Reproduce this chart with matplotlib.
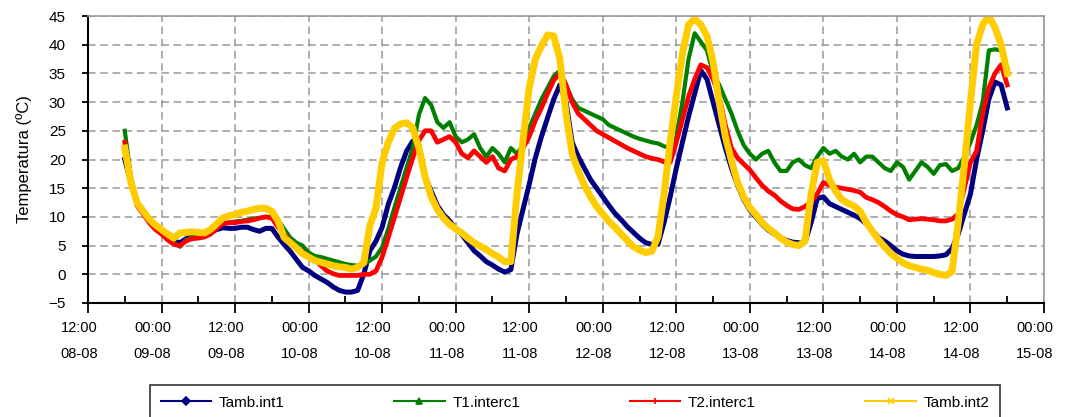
import numpy as np
import pandas as pd
import matplotlib
matplotlib.use("Agg")
from matplotlib import pyplot as plt
from matplotlib import dates as mdates
from matplotlib.lines import Line2D
from matplotlib.transforms import ScaledTranslation

plt.rcParams['font.family'] = ['Liberation Sans', 'DejaVu Sans']

# hourly readings, 08-08 18:00 -> 14-08 18:00
times = pd.date_range('2008-08-08 18:00', '2008-08-14 18:00', freq='h')

tamb_int1 = [
    20, 16, 12.5, 10.8, 9.3, 8.2, 7.4, 6.6, 5.8, 5.5, 6.2, 6.5,
    6.6, 6.8, 7.3, 7.8, 8.1, 8.0, 8.0, 8.2, 8.2, 7.8, 7.5, 8.0,
    8.0, 6.5, 5.2, 4.0, 2.6, 1.2, 0.6, -0.2, -0.8, -1.4, -2.2, -2.8,
    -3.1, -3.1, -2.8, 0.0, 4.1, 5.8, 8.2, 12.2, 15.1, 18.6, 21.5, 23.2,
    22.5, 17, 14.5, 12, 10.4, 9.3, 7.9, 6.9, 5.5, 4.1, 3.2, 2.2,
    1.6, 0.9, 0.4, 0.8, 7, 11.4, 15.7, 20.3, 24, 27.3, 30.5, 33,
    30, 23, 20.5, 18.5, 16.5, 15, 13.5, 12, 10.6, 9.5, 8.3, 7.3,
    6.3, 5.5, 5.2, 5.2, 9, 13.5, 18.5, 23, 27.5, 31.5, 35.5, 34,
    30, 26, 22, 18.5, 15.5, 13, 11.2, 10, 8.7, 7.7, 7, 6.4,
    5.9, 5.6, 5.5, 5.6, 9, 13.2, 13.5, 12.3, 11.8, 11.3, 10.8, 10.3,
    9.7, 8.8, 7.6, 6.4, 5.8, 5, 4.1, 3.5, 3.2, 3.1, 3.1, 3.1,
    3.1, 3.2, 3.4, 4.5, 7, 10.5, 14, 20, 25, 30.5, 33.5, 33,
    29,
]

t1_interc1 = [
    25, 17, 12.5, 10.8, 9.3, 8.2, 7.4, 6.4, 5.5, 4.8, 6, 6.4,
    6.5, 6.8, 7.5, 8.3, 8.8, 9, 9.2, 9.3, 9.5, 9.7, 9.8, 10,
    10, 9.5, 7.9, 6.4, 5.5, 5, 3.8, 3.2, 3, 2.7, 2.4, 2.1,
    1.8, 1.6, 1.5, 1.8, 2.4, 3.1, 4.7, 7.9, 11.6, 15.1, 18.6, 22,
    27.8, 30.7, 29.5, 26.5, 25.5, 26.5, 24, 23, 23.5, 24.4, 22, 20.5,
    22, 21, 19.5, 22, 21, 22.5, 25.5, 28, 30.5, 32.5, 34.5, 35.5,
    33, 30.5, 29, 28.5, 28, 27.5, 27, 26, 25.5, 25, 24.5, 24,
    23.6, 23.3, 23, 22.8, 22.3, 22, 24, 30, 37.5, 42, 40.5, 39,
    35, 33, 30.5, 28, 25, 22.5, 21, 20, 21, 21.5, 19.5, 18,
    18, 19.5, 20, 19, 18.5, 20.5, 22, 21, 21.5, 20.5, 20, 21,
    19.5, 20.5, 20.5, 19.5, 18.5, 18, 19.5, 18.7, 16.5, 18, 19.5, 18.7,
    17.5, 19, 19.2, 18, 18.5, 20.5, 23, 26, 30, 39, 39.2, 39,
    36,
]

t2_interc1 = [
    23, 16.5, 12, 10.5, 9, 7.8, 7, 6, 5.2, 5, 5.8, 6.2,
    6.3, 6.5, 7, 8, 8.8, 9, 9, 9.2, 9.3, 9.5, 9.8, 10,
    9.8, 8.2, 7, 5.8, 4.6, 4, 3, 2.6, 1.5, 0.6, 0.1, -0.2,
    -0.2, -0.2, -0.2, 0, 0, 0.6, 3, 6.4, 9.9, 13.4, 16.9, 20.3,
    23.3, 25, 25, 23, 23.5, 24, 23, 21, 20.3, 21.5, 20.5, 19.5,
    20.5, 18.5, 18, 20, 20.5, 22, 24, 26.8, 29, 31.5, 33.8, 35,
    33, 30, 28, 27, 26, 25, 24.4, 23.8, 23.2, 22.6, 22, 21.5,
    21, 20.5, 20.2, 20, 19.6, 19.5, 23, 27, 31, 34, 36.5, 36,
    34, 31, 26, 22, 20.3, 19.2, 18.2, 16.8, 15.5, 14.5, 13.8, 12.8,
    12, 11.4, 11.3, 11.8, 12.6, 14, 16, 15.5, 15.2, 15, 14.8, 14.6,
    14.3, 13.4, 13, 12.5, 11.8, 11, 10.4, 10, 9.5, 9.6, 9.7, 9.6,
    9.5, 9.3, 9.3, 9.6, 10.5, 15, 19.5, 21.5, 28, 32.5, 35, 36.5,
    33,
]

tamb_int2 = [
    22, 16, 12.5, 11, 9.6, 8.6, 7.8, 7, 6.3, 7.2, 7.3, 7.4,
    7.3, 7.2, 7.8, 8.8, 9.8, 10.2, 10.4, 10.8, 11, 11.3, 11.5, 11.5,
    11, 9.3, 6.4, 5.5, 4.6, 3.6, 3, 2.4, 2.1, 1.8, 1.5, 1.3,
    1.2, 0.9, 1.2, 2, 8.5, 11.6, 19.5, 23, 25.4, 26.2, 26.4, 25.5,
    22, 17, 13.5, 11.3, 9.8, 8.7, 7.9, 7.2, 6.3, 5.5, 4.9, 4.3,
    3.6, 3, 2.2, 2.2, 14, 23.5, 32.5, 37.5, 39.8, 41.7, 41.5, 37.5,
    28, 21, 18, 15.5, 13.5, 11.8, 10.5, 9.2, 8.2, 7, 5.9, 4.8,
    4.2, 3.8, 4, 6.5, 14, 23, 31, 38.5, 43.5, 44.5, 43.5, 41.5,
    37, 30, 24, 19.8, 16, 13.5, 11.6, 10.4, 9, 8, 7.2, 6.3,
    5.6, 5.2, 5, 5.8, 14, 19.5, 19.8, 16.5, 14.5, 13, 12.4, 11.9,
    11, 9, 7.5, 6, 4.8, 3.6, 2.8, 2, 1.5, 1.2, 0.9, 0.7,
    0.3, 0, -0.2, 0.5, 9, 19, 30, 40, 43.5, 45, 43, 40,
    35,
]

labels = ['Tamb.int1', 'T1.interc1', 'T2.interc1', 'Tamb.int2']
colors = ['#000080', '#008000', '#FF0000', '#FFCC00']
markers = ['D', '^', '|', 'x']
widths = [3.6, 3.0, 3.4, 5.0]

fig = plt.figure(figsize=(10.75, 4.17), dpi=100)
ax = fig.add_axes([88/1075, 1 - 303/417, 956/1075, 287/417])

for ys, c, w in zip([tamb_int1, t1_interc1, t2_interc1, tamb_int2], colors, widths):
    ax.plot(times, ys, color=c, lw=w, solid_joinstyle='round')

ax.set_xlim(pd.Timestamp('2008-08-08 12:00'), pd.Timestamp('2008-08-15 00:00'))
ax.set_ylim(-5, 45)
ax.set_yticks(np.arange(-5, 46, 5))
ax.xaxis.set_major_locator(mdates.HourLocator(byhour=[0, 12]))
ax.xaxis.set_minor_locator(mdates.HourLocator(byhour=[6, 18]))
ax.xaxis.set_major_formatter(mdates.DateFormatter('%H:%M\n%d-%m'))

ax.grid(True, which='major', color='#999999', linestyle=(0, (5, 3)), lw=1.1)
ax.tick_params(axis='x', which='major', direction='out', length=7, width=1.3,
               labelsize=10.5, pad=6)
ax.tick_params(axis='x', which='minor', direction='in', length=5, width=1.3)
ax.tick_params(axis='y', direction='out', length=4, width=1.3, labelsize=11, pad=12)

for lab in ax.get_xticklabels():
    lab.set_linespacing(2.05)
    lab.set_transform(lab.get_transform() + ScaledTranslation(-9/100, 0, fig.dpi_scale_trans))

ax.set_ylabel('Temperatura (ºC)', fontsize=12, labelpad=12)

for s in ['top', 'right']:
    ax.spines[s].set_color('#999999')
    ax.spines[s].set_linewidth(1.2)
for s in ['bottom', 'left']:
    ax.spines[s].set_linewidth(1.5)

handles = [Line2D([], [], color=c, lw=1.5, marker=m, markersize=4, markeredgewidth=1.2)
           for c, m in zip(colors, markers)]
leg = fig.legend(handles, labels, loc='upper left', ncol=4, mode='expand',
                 bbox_to_anchor=(150/1075, 1 - 385/417 - 0.3, 850/1075, 0.3),
                 borderaxespad=0, fontsize=11, handlelength=3.3, handletextpad=0.5,
                 fancybox=False, borderpad=0.7, frameon=True)
leg.get_frame().set_edgecolor('black')
leg.get_frame().set_linewidth(1.2)

fig.savefig('out.png', dpi=100)
